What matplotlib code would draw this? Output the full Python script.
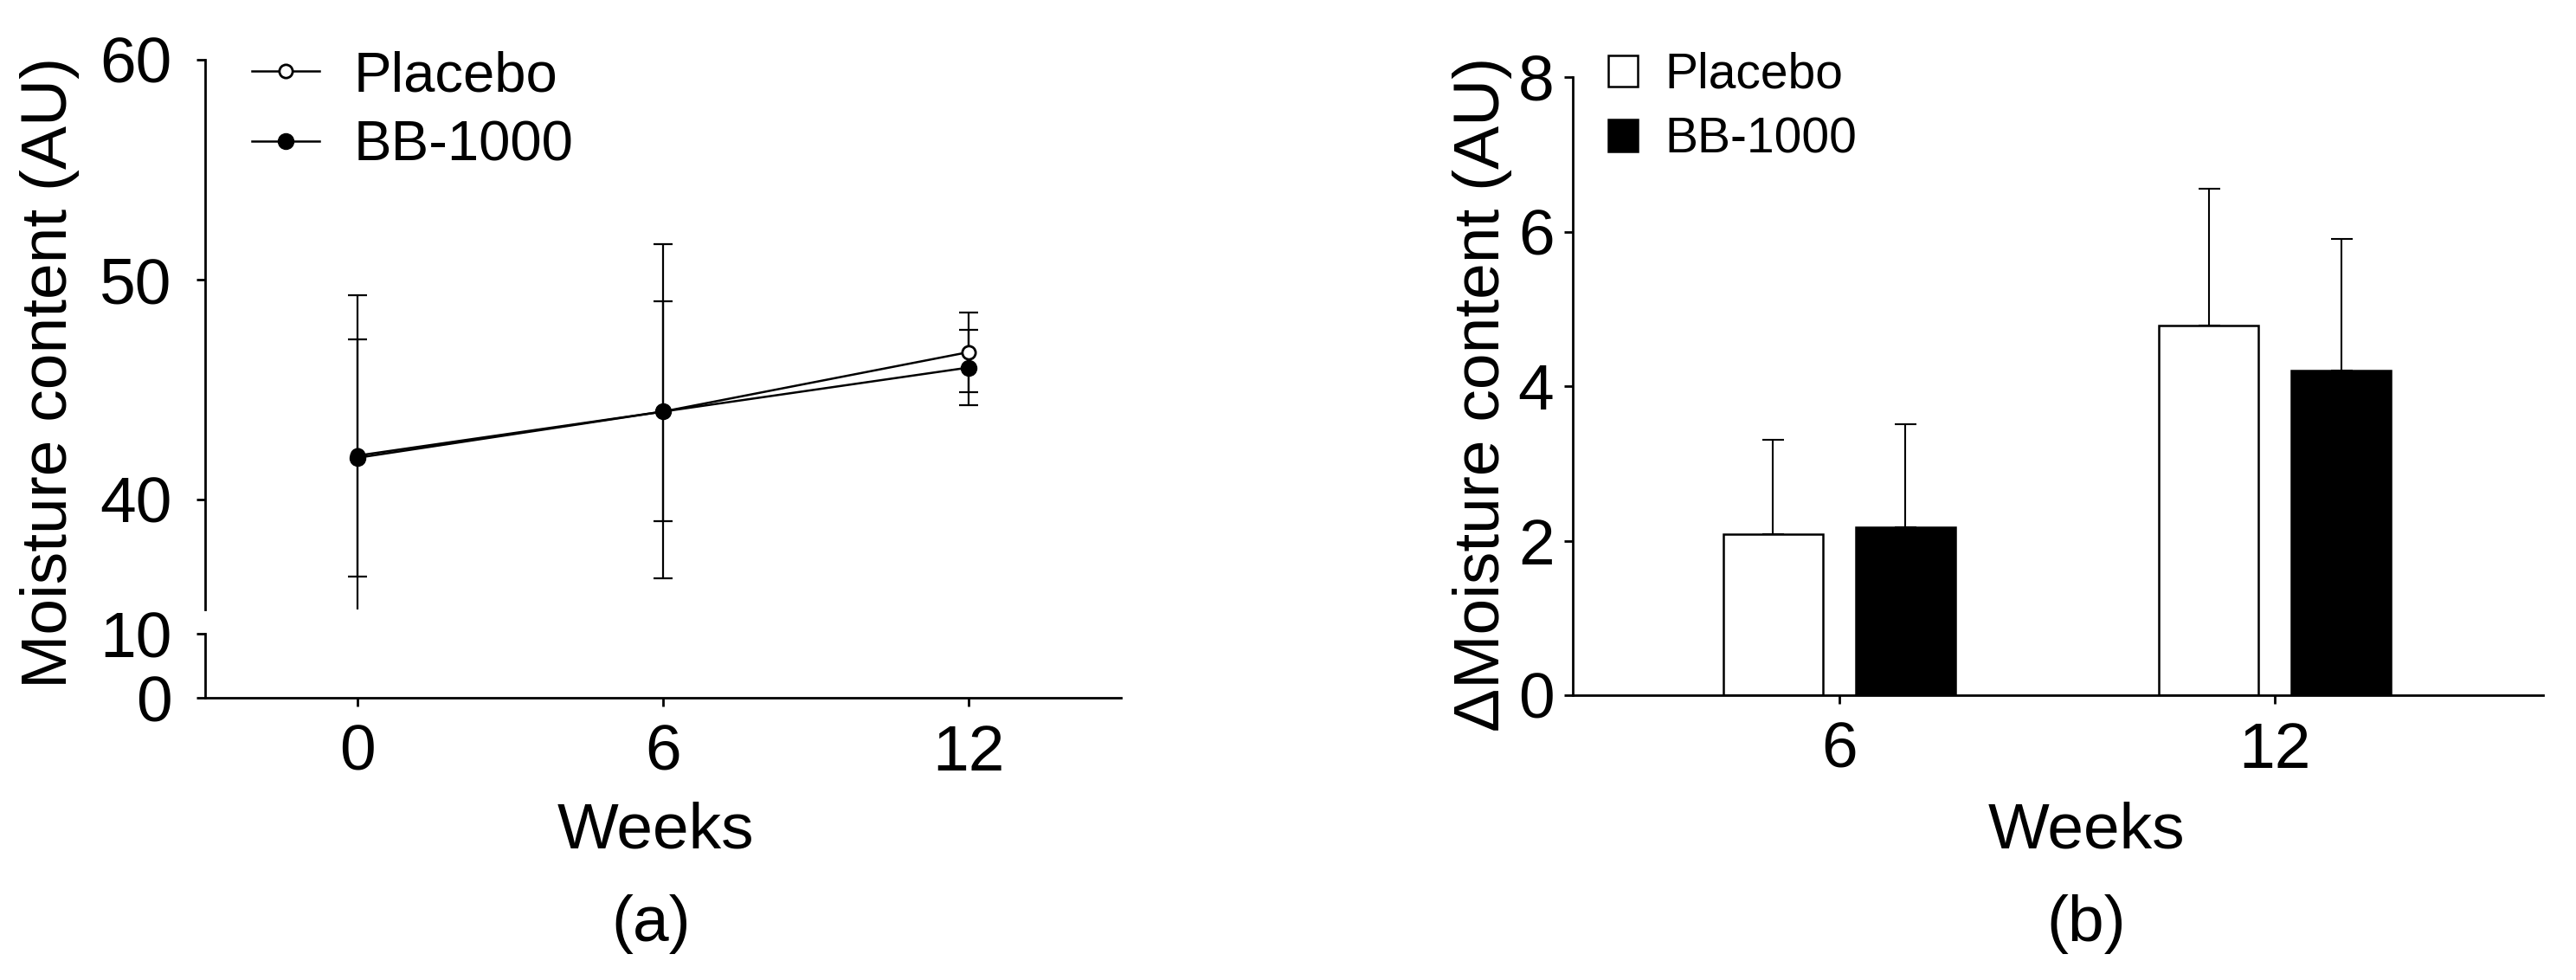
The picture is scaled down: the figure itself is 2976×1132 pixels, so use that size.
import numpy as np
import matplotlib.pyplot as plt
from matplotlib.lines import Line2D

plt.rcParams['font.family'] = ['Liberation Sans', 'DejaVu Sans']

# (a) moisture content over time, mean +/- SD
weeks = [0, 6, 12]
placebo_mean = [42.0, 44.0, 46.7]
placebo_sd = [7.3, 7.6, 1.8]
bb_mean = [41.9, 44.0, 46.0]
bb_sd = [5.4, 5.0, 1.7]

# (b) change from baseline
delta_weeks = ['6', '12']
placebo_delta = [2.08, 4.78]
placebo_delta_sd = [1.23, 1.77]
bb_delta = [2.17, 4.20]
bb_delta_sd = [1.34, 1.71]

W, H = 2976, 1132
fig = plt.figure(figsize=(W / 100, H / 100), dpi=100)


def box(x0, y0, x1, y1):
    # pixel box (top-left origin) -> figure fraction rect
    return [x0 / W, 1 - y1 / H, (x1 - x0) / W, (y1 - y0) / H]


ax_top = fig.add_axes(box(237, 69, 1295, 704))
ax_bot = fig.add_axes(box(237, 732, 1295, 806))
ax_b = fig.add_axes(box(1817, 89, 2938, 803))

fs = 54
lw = 2.0
for ax in (ax_top, ax_bot, ax_b):
    for s in ('top', 'right'):
        ax.spines[s].set_visible(False)
    for s in ('left', 'bottom'):
        ax.spines[s].set_linewidth(lw)
    ax.tick_params(direction='out', length=7.5, width=lw, labelsize=fs)

# ---- panel (a): broken y axis ----
x = np.array(weeks)
ax_top.errorbar(x, placebo_mean, yerr=placebo_sd, fmt='none', ecolor='black',
                elinewidth=1.6, capsize=8, capthick=1.6, zorder=2)
ax_top.errorbar(x, bb_mean, yerr=bb_sd, fmt='none', ecolor='black',
                elinewidth=1.6, capsize=8, capthick=1.6, zorder=2)
l1, = ax_top.plot(x, placebo_mean, '-o', color='black', lw=1.8, ms=11,
                  mfc='white', mec='black', mew=2, zorder=3, label='Placebo')
l2, = ax_top.plot(x, bb_mean, '-o', color='black', lw=1.8, ms=13,
                  mfc='black', mec='black', zorder=4, label='BB-1000')

for ax in (ax_top, ax_bot):
    ax.set_xlim(-3, 15)
ax_top.set_ylim(35, 60)
ax_top.set_yticks([40, 50, 60])
ax_top.spines['bottom'].set_visible(False)
ax_top.tick_params(axis='x', bottom=False, labelbottom=False)
ax_top.tick_params(axis='y', pad=20)

ax_bot.set_ylim(0, 10)
ax_bot.set_yticks([0, 10])
ax_bot.set_xticks(weeks)
ax_bot.tick_params(axis='y', pad=20)
ax_bot.tick_params(axis='x', pad=14)

ax_top.legend(handles=[l1, l2], loc='upper left', frameon=False,
              fontsize=47, bbox_to_anchor=(291 / W, 1 - 58 / H),
              bbox_transform=fig.transFigure, borderaxespad=0, borderpad=0,
              handlelength=1.2, handletextpad=0.6, labelspacing=0.32)

fig.text(58 / W, 1 - 430 / H, 'Moisture content (AU)', rotation=90,
         ha='center', va='center', fontsize=fs)
fig.text(757 / W, 1 - 960 / H, 'Weeks', ha='center', va='center', fontsize=fs)
fig.text(752 / W, 1 - 1068 / H, '(a)', ha='center', va='center', fontsize=fs)

# ---- panel (b): bars ----
pos = np.arange(len(delta_weeks))
bw = 0.23
off = 0.152
zeros = np.zeros(len(delta_weeks))
ax_b.bar(pos - off, placebo_delta, bw, color='white', edgecolor='black',
         linewidth=1.8, label='Placebo', zorder=2)
ax_b.bar(pos + off, bb_delta, bw, color='black', edgecolor='black',
         linewidth=1.8, label='BB-1000', zorder=2)
ax_b.errorbar(pos - off, placebo_delta, yerr=[zeros, placebo_delta_sd],
              fmt='none', ecolor='black', elinewidth=1.5, capsize=9,
              capthick=1.5, zorder=1)
ax_b.errorbar(pos + off, bb_delta, yerr=[zeros, bb_delta_sd],
              fmt='none', ecolor='black', elinewidth=1.5, capsize=9,
              capthick=1.5, zorder=1)

ax_b.set_xlim(-0.612, 1.616)
ax_b.set_ylim(0, 8)
ax_b.set_yticks([0, 2, 4, 6, 8])
ax_b.set_xticks(pos)
ax_b.set_xticklabels(delta_weeks)
ax_b.tick_params(axis='y', pad=8)
ax_b.tick_params(axis='x', pad=14)

ax_b.legend(loc='upper left', frameon=False, fontsize=41,
            bbox_to_anchor=(1858 / W, 1 - 60 / H),
            bbox_transform=fig.transFigure, borderaxespad=0, borderpad=0,
            handlelength=0.6, handleheight=0.6, handletextpad=0.55,
            labelspacing=0.36)

fig.text(1712 / W, 1 - 455 / H, '\u0394Moisture content (AU)', rotation=90,
         ha='center', va='center', fontsize=fs)
fig.text(2410 / W, 1 - 960 / H, 'Weeks', ha='center', va='center', fontsize=fs)
fig.text(2410 / W, 1 - 1068 / H, '(b)', ha='center', va='center', fontsize=fs)

fig.savefig('out.png', dpi=100)
